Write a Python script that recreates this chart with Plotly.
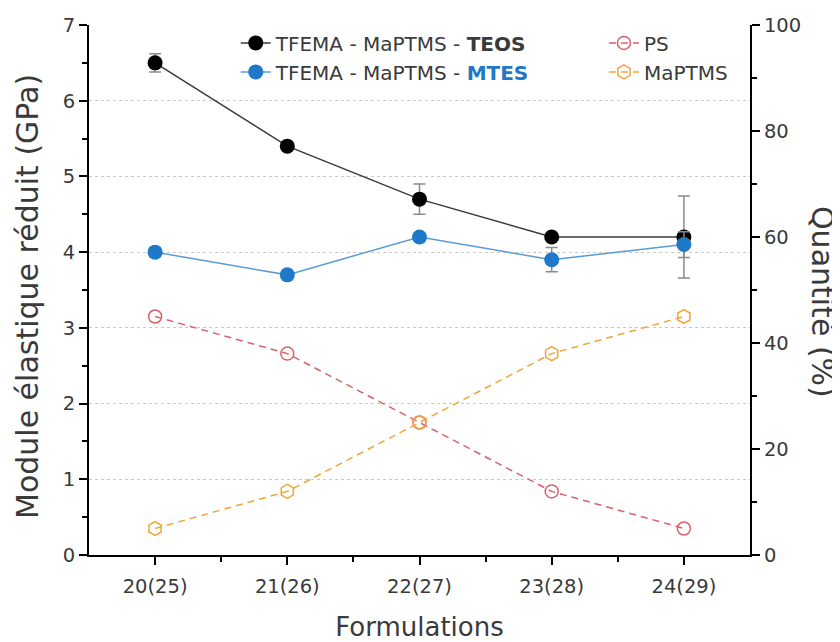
import plotly.graph_objects as go

# ---- data ----
formulations = ["20(25)", "21(26)", "22(27)", "23(28)", "24(29)"]
teos_modulus = [6.5, 5.4, 4.7, 4.2, 4.2]
teos_err = [0.12, 0.04, 0.2, 0.04, 0.54]
mtes_modulus = [4.0, 3.7, 4.2, 3.9, 4.1]
mtes_err = [0.06, 0.03, 0.05, 0.16, 0.17]
ps_pct = [45, 38, 25, 12, 5]
maptms_pct = [5, 12, 25, 38, 45]

FONT = "DejaVu Sans"
TXT = "#3a3a3a"

x_idx = list(range(len(formulations)))

fig = go.Figure()

fig.add_trace(go.Scatter(
    x=x_idx, y=teos_modulus, mode="lines+markers",
    name="TFEMA - MaPTMS - <b>TEOS</b>",
    line=dict(color="#3a3a3a", width=1.5),
    marker=dict(color="black", size=15, symbol="circle"),
    error_y=dict(type="data", array=teos_err, color="#8a8a8a", thickness=1.5, width=6),
    legend="legend",
))
fig.add_trace(go.Scatter(
    x=x_idx, y=mtes_modulus, mode="lines+markers",
    name="TFEMA - MaPTMS - <b><span style='color:#1f78c8'>MTES</span></b>",
    line=dict(color="#5b9bd5", width=1.5),
    marker=dict(color="#1f78c8", size=15, symbol="circle"),
    error_y=dict(type="data", array=mtes_err, color="#8a8a8a", thickness=1.5, width=6),
    legend="legend",
))
fig.add_trace(go.Scatter(
    x=x_idx, y=ps_pct, mode="lines+markers", yaxis="y2",
    name="PS",
    line=dict(color="#d9606b", width=1.5, dash="7px,5px"),
    marker=dict(color="#d9606b", size=13, symbol="circle-open", line=dict(width=1.5)),
    legend="legend2",
))
fig.add_trace(go.Scatter(
    x=x_idx, y=maptms_pct, mode="lines+markers", yaxis="y2",
    name="MaPTMS",
    line=dict(color="#f2a43a", width=1.5, dash="7px,5px"),
    marker=dict(color="#f2a43a", size=14, symbol="hexagon-open", line=dict(width=1.5)),
    legend="legend2",
))

fig.update_layout(
    width=832, height=634,
    margin=dict(l=81, r=90, t=17, b=87),
    paper_bgcolor="white", plot_bgcolor="white",
    font=dict(family=FONT, size=19, color=TXT),
    xaxis=dict(
        range=[-0.5, 4.5], tickmode="array", tickvals=x_idx, ticktext=formulations,
        showline=True, linecolor="black", linewidth=2,
        ticks="outside", ticklen=8, tickwidth=2, tickcolor="black",
        minor=dict(tickmode="array", tickvals=[0.5, 1.5, 2.5, 3.5], ticks="outside",
                   ticklen=5, tickwidth=2, tickcolor="black"),
        showgrid=False, zeroline=False, automargin=False,
        title=dict(text="Formulations", font=dict(size=26), standoff=22),
        tickfont=dict(size=19.5), ticklabelstandoff=5,
    ),
    yaxis=dict(
        range=[0, 7], dtick=1,
        showline=True, linecolor="black", linewidth=2,
        ticks="outside", ticklen=8, tickwidth=2, tickcolor="black",
        minor=dict(dtick=0.5, ticks="outside", ticklen=5, tickwidth=2, tickcolor="black", showgrid=False),
        showgrid=True, gridcolor="#c8c8c8", griddash="dot", gridwidth=1,
        zeroline=False, automargin=False,
        tickfont=dict(size=19.5),
    ),
    yaxis2=dict(
        range=[0, 100], dtick=20, overlaying="y", side="right",
        showline=True, linecolor="black", linewidth=2,
        ticks="outside", ticklen=8, tickwidth=2, tickcolor="black",
        minor=dict(dtick=10, ticks="outside", ticklen=5, tickwidth=2, tickcolor="black", showgrid=False),
        showgrid=False, zeroline=False, automargin=False,
        tickfont=dict(size=19.5),
    ),
    legend=dict(x=0.222, y=1.003, xanchor="left", yanchor="top", bgcolor="rgba(0,0,0,0)",
                font=dict(size=20), tracegroupgap=0, itemwidth=30),
    legend2=dict(x=0.779, y=1.003, xanchor="left", yanchor="top", bgcolor="rgba(0,0,0,0)",
                 font=dict(size=20), tracegroupgap=0, itemwidth=30),
    annotations=[
        dict(
            text="Module élastique réduit (GPa)", textangle=-90, xref="paper", yref="paper",
            x=0.0, xshift=-62, y=0.5, yshift=-7, xanchor="center", yanchor="middle",
            showarrow=False, font=dict(size=30, color=TXT),
        ),
        dict(
            text="Quantité (%)", textangle=90, xref="paper", yref="paper",
            x=1.0, xshift=73, y=0.5, yshift=-12, xanchor="center", yanchor="middle",
            showarrow=False, font=dict(size=30, color=TXT),
        ),
    ],
)

fig.write_html("out.html")
